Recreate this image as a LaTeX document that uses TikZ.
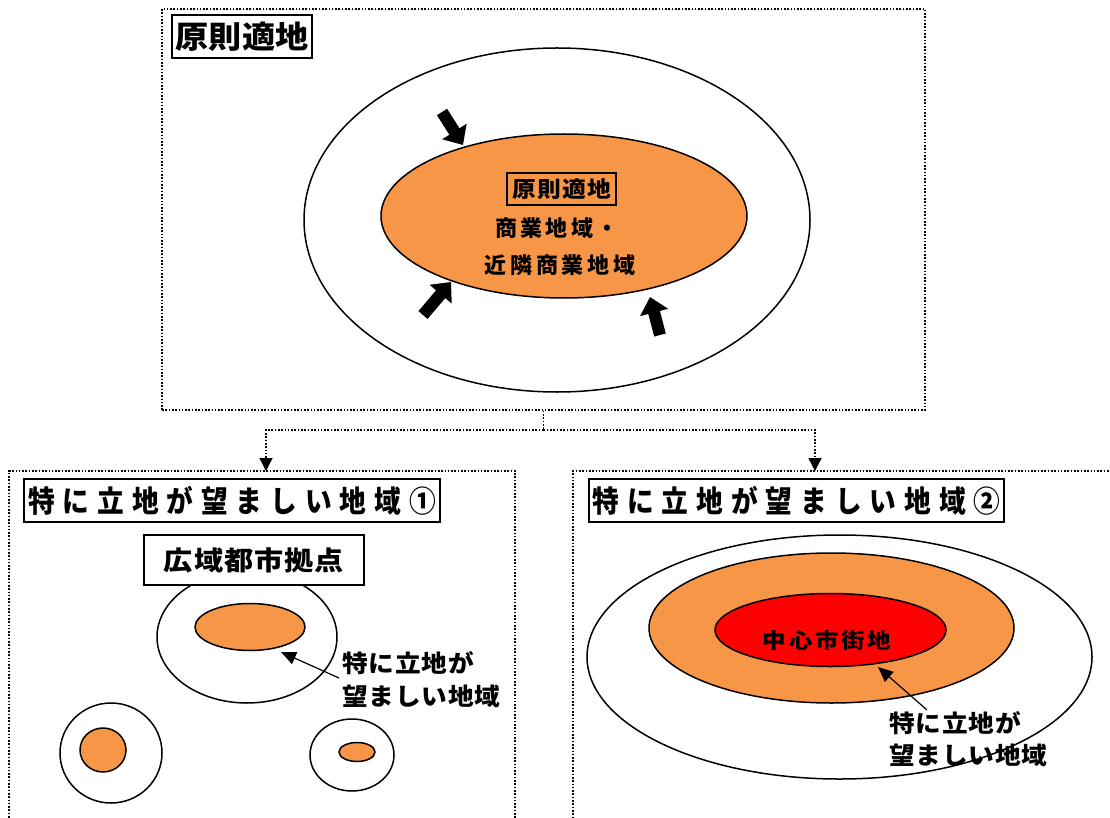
\documentclass[tikz,border=0pt]{standalone}
\usepackage{fontspec}
\usetikzlibrary{shapes.geometric,arrows.meta}
\newfontfamily\jp{Noto Sans CJK JP}
\definecolor{orng}{HTML}{F79646}
\definecolor{rd}{HTML}{FF0000}
\newcommand{\jpf}[3]{\jp\bfseries\fontsize{#1}{#1}\selectfont\addfontfeature{FakeStretch=#2,LetterSpace=#3}}
\begin{document}
\begin{tikzpicture}[x=1pt,y=-1pt,
  dotline/.style={line width=1.4pt, dash pattern=on 1.6pt off 1.7pt},
  dotbox/.style={draw, dotline, inner sep=0pt},
  titlebox/.style={draw, line width=1.8pt, fill=white, inner sep=0pt},
  ring/.style={draw, ellipse, line width=1.5pt, inner sep=0pt},
  blockarrow/.style={line width=12pt, -{Triangle[width=28pt,length=16pt]}},
  connarrow/.style={dotline, -{Triangle[width=13pt,length=13pt]}},
  ptr/.style={line width=1.2pt, -{Triangle[width=13pt,length=15pt]}},
  jpt/.style={inner sep=0pt},
]
\clip (0,0) rectangle (1110,818);
\fill[white] (0,0) rectangle (1110,818);
% ---------- top box ----------
\node[dotbox, minimum width=763, minimum height=401] (topbox) at (543.5,209.5) {};
\node[titlebox, minimum width=140, minimum height=43, font=\jpf{31}{1.07}{0}] (t0) at (242,36.5) {原則適地};
\node[ring, minimum width=506, minimum height=344] (outer0) at (557,220) {};
\node[ring, fill=orng, minimum width=366, minimum height=164] (core0) at (564,216) {};
\node[titlebox, fill=none, line width=1.5pt, minimum width=109, minimum height=32, font=\jpf{22}{1.08}{6}] (t0b) at (561.5,189) {原則適地};
\node[jpt, font=\jpf{22}{1.0}{14}] (l1) at (557,228) {商業地域・};
\node[jpt, font=\jpf{22}{1.0}{17}] (l2) at (560,265) {近隣商業地域};
\coordinate (a1s) at (442,112); \coordinate (a1e) at (463,145);
\coordinate (a2s) at (423,315); \coordinate (a2e) at (451,282);
\coordinate (a3s) at (660,335); \coordinate (a3e) at (650,297);
\draw[blockarrow] (a1s) -- (a1e);
\draw[blockarrow] (a2s) -- (a2e);
\draw[blockarrow] (a3s) -- (a3e);
% ---------- connectors ----------
\coordinate (j) at (543.5,430);
\coordinate (b1in) at (266,471);
\coordinate (b2in) at (815,471);
\draw[dotline] (topbox.south) -- (j);
\draw[connarrow] (j) -| (b1in);
\draw[connarrow] (j) -| (b2in);
% ---------- bottom left ----------
\node[dotbox, minimum width=506, minimum height=359] (box1) at (262,650.5) {};
\node[titlebox, minimum width=416, minimum height=43, font=\jpf{30}{0.89}{26.5}] (t1) at (232,500.5) {特に立地が望ましい地域①};
\node[ring, minimum width=180, minimum height=132] (o1) at (247,637) {};
\node[ring, fill=orng, minimum width=110, minimum height=47] (c1) at (250,627) {};
\node[titlebox, line width=1.5pt, minimum width=220, minimum height=50, font=\jpf{26.5}{1.1}{4}] (hub) at (254,560) {広域都市拠点};
\node[jpt, anchor=west, font=\jpf{24}{1.07}{3.5}] (p1a) at (342,663) {特に立地が};
\node[jpt, anchor=west, font=\jpf{24}{1.07}{3.5}] (p1b) at (342,696) {望ましい地域};
\coordinate (p1s) at (339,678);
\coordinate (p1e) at (281,652);
\draw[ptr] (p1s) -- (p1e);
\node[ring, minimum width=102, minimum height=100] (o2) at (111,753) {};
\node[ring, fill=orng, minimum width=46, minimum height=44] (c2) at (103,750) {};
\node[ring, minimum width=84, minimum height=72] (o3) at (352,755) {};
\node[ring, fill=orng, minimum width=36, minimum height=19] (c3) at (357,752) {};
% ---------- bottom right ----------
\node[dotbox, minimum width=547, minimum height=359] (box2) at (846.5,650.5) {};
\node[titlebox, minimum width=415, minimum height=43, font=\jpf{30}{0.89}{26.5}] (t2) at (796.5,500.5) {特に立地が望ましい地域②};
\node[ring, minimum width=505, minimum height=244] (o4) at (839.5,657) {};
\node[ring, fill=orng, minimum width=365, minimum height=150] (c4) at (831.5,628) {};
\node[ring, fill=rd, minimum width=231, minimum height=73] (r4) at (830.5,630) {};
\node[jpt, font=\jpf{21}{1.12}{13}] (cc) at (827,640) {中心市街地};
\coordinate (p2s) at (927,710);
\coordinate (p2e) at (878,667);
\draw[ptr] (p2s) -- (p2e);
\node[jpt, anchor=west, font=\jpf{24}{1.07}{3.5}] (p2a) at (889,723) {特に立地が};
\node[jpt, anchor=west, font=\jpf{24}{1.07}{3.5}] (p2b) at (889,755) {望ましい地域};
\end{tikzpicture}
\end{document}
